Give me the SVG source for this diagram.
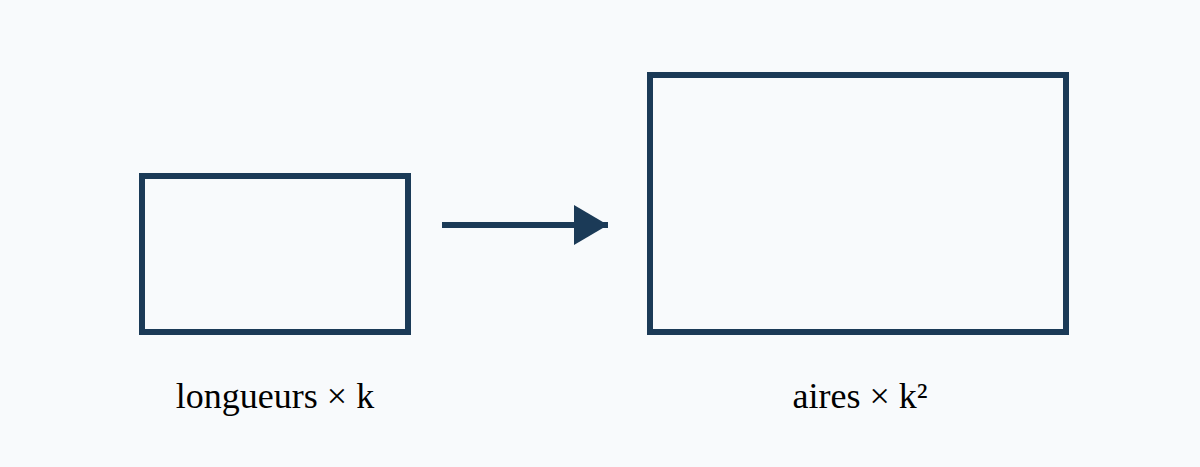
<svg xmlns="http://www.w3.org/2000/svg" width="1200" height="467" viewBox="0 0 1200 467">
<style>
.box{fill:none;stroke:#1b3a57;stroke-width:6}
.lbl{font-family:"Liberation Serif",serif;font-size:36px;fill:#000;text-anchor:middle}
</style>
<defs><marker id="ah" markerUnits="userSpaceOnUse" markerWidth="34" markerHeight="40" refX="34" refY="20" orient="auto"><path d="M0,0L34,20L0,40Z" fill="#1b3a57"/></marker></defs>
<rect width="1200" height="467" fill="#f8fafc"/>
<g id="small"><rect class="box" x="142" y="176" width="266" height="156"/><text class="lbl" x="275" y="408">longueurs × k</text></g>
<g id="large"><rect class="box" x="650" y="75" width="416" height="257"/><text class="lbl" x="860" y="408">aires × k²</text></g>
<g id="connectors"><line x1="442" y1="225" x2="608" y2="225" stroke="#1b3a57" stroke-width="6" marker-end="url(#ah)"/></g>
</svg>
